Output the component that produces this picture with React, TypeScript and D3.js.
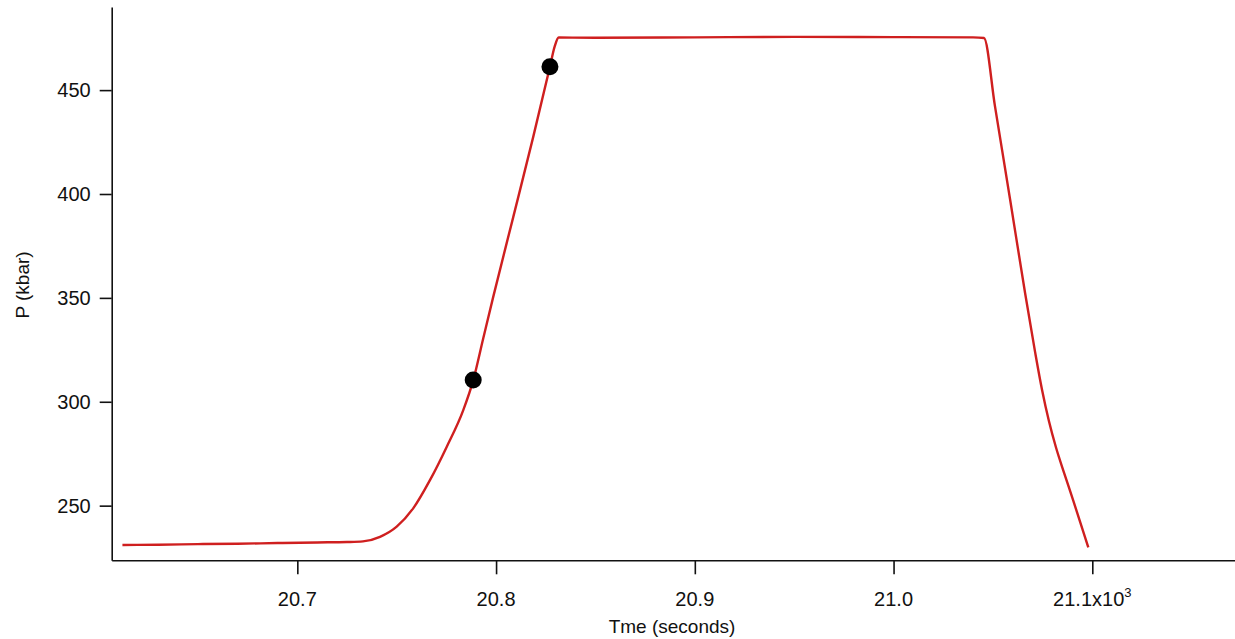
import React, { useEffect, useRef } from 'react';
import * as d3 from 'd3';

// time in seconds, pressure in kbar
const timeS = [
  20612, 20630, 20650, 20670, 20690, 20710, 20725, 20733, 20741.6, 20750,
  20758.3, 20766.8, 20775.2, 20783.5, 20788.5, 20793.5, 20798.6, 20808.7, 20818.7, 20827.1,
  20829.5, 20831.5, 20850, 20900, 20950, 21000, 21040, 21045.5, 21051.0, 21058.6,
  21066.1, 21071.2, 21074.7, 21078.2, 21081.7, 21085.8, 21090.3, 21098.0
];
const pressure = [
  231.1, 231.2, 231.5, 231.7, 232.0, 232.3, 232.5, 232.8, 235.0, 239.9,
  248.7, 262.4, 278.4, 296.0, 310.3, 330.3, 350.6, 389.1, 427.5, 461.2,
  471.0, 475.3, 475.2, 475.4, 475.6, 475.5, 475.4, 475.1, 442.4, 397.6,
  352.8, 324.0, 305.8, 290.6, 278.1, 265.8, 252.8, 229.9
];

const markTime = [20788.5, 20827.1];
const markP = [310.5, 461.2];

const xTicks = [20700, 20800, 20900, 21000, 21100];
const yTicks = [250, 300, 350, 400, 450];

const App = () => {
  const svgRef = useRef<SVGSVGElement>(null);

  useEffect(() => {
    const width = 1235;
    const height = 639;
    const svg = d3.select(svgRef.current);
    svg.selectAll('*').remove();
    svg.attr('width', width).attr('height', height);

    const x = d3.scaleLinear().domain([20606.6, 21171.8]).range([111.7, 1235]);
    const y = d3.scaleLinear().domain([223.7, 490]).range([560.3, 7]);

    const font = "'Liberation Sans', Arial, sans-serif";

    // x axis
    const xAxis = svg.append('g')
      .attr('transform', `translate(0,${y(223.7)})`)
      .call(d3.axisBottom(x).tickValues(xTicks).tickSize(14).tickSizeOuter(0).tickFormat(() => ''));
    xAxis.select('.domain').attr('stroke', '#111').attr('stroke-width', 1.6);
    xAxis.selectAll('.tick line').attr('stroke', '#111').attr('stroke-width', 1.6);
    xAxis.selectAll('.tick text').remove();

    xTicks.forEach((t, i) => {
      const txt = svg.append('text')
        .attr('x', x(t))
        .attr('y', 606)
        .attr('text-anchor', 'middle')
        .style('font-family', font)
        .style('font-size', '20px')
        .attr('fill', '#111');
      if (i === xTicks.length - 1) {
        txt.append('tspan').text((t / 1000).toFixed(1) + 'x10');
        txt.append('tspan').attr('dy', -9).style('font-size', '13px').text('3');
      } else {
        txt.text((t / 1000).toFixed(1));
      }
    });

    // y axis
    const yAxis = svg.append('g')
      .attr('transform', `translate(${x(20606.6)},0)`)
      .call(d3.axisLeft(y).tickValues(yTicks).tickSize(12).tickSizeOuter(0).tickPadding(9));
    yAxis.select('.domain').attr('stroke', '#111').attr('stroke-width', 1.6);
    yAxis.selectAll('.tick line').attr('stroke', '#111').attr('stroke-width', 1.6);
    yAxis.selectAll('.tick text')
      .style('font-family', font)
      .style('font-size', '20px')
      .attr('fill', '#111');

    // titles
    svg.append('text')
      .attr('x', 672)
      .attr('y', 633)
      .attr('text-anchor', 'middle')
      .style('font-family', font)
      .style('font-size', '19px')
      .attr('fill', '#111')
      .text('Tme (seconds)');

    svg.append('text')
      .attr('transform', 'translate(29,285) rotate(-90)')
      .attr('text-anchor', 'middle')
      .style('font-family', font)
      .style('font-size', '19px')
      .attr('fill', '#111')
      .text('P (kbar)');

    // trace
    const pts = timeS.map((t, i) => [t, pressure[i]] as [number, number]);
    const line = d3.line<[number, number]>()
      .x(d => x(d[0]))
      .y(d => y(d[1]))
      .curve(d3.curveMonotoneX);
    svg.append('path')
      .datum(pts)
      .attr('d', line)
      .attr('fill', 'none')
      .attr('stroke', '#cf1f1f')
      .attr('stroke-width', 2.4);

    // markers
    svg.selectAll('circle.mark')
      .data(markTime)
      .enter()
      .append('circle')
      .attr('class', 'mark')
      .attr('cx', d => x(d))
      .attr('cy', (d, i) => y(markP[i]))
      .attr('r', 8.5)
      .attr('fill', '#000');
  }, []);

  return (
    <div style={{ position: 'absolute', left: 0, top: 0 }}>
      <svg ref={svgRef} style={{ display: 'block', background: '#fff' }}></svg>
    </div>
  );
};

export default App;
